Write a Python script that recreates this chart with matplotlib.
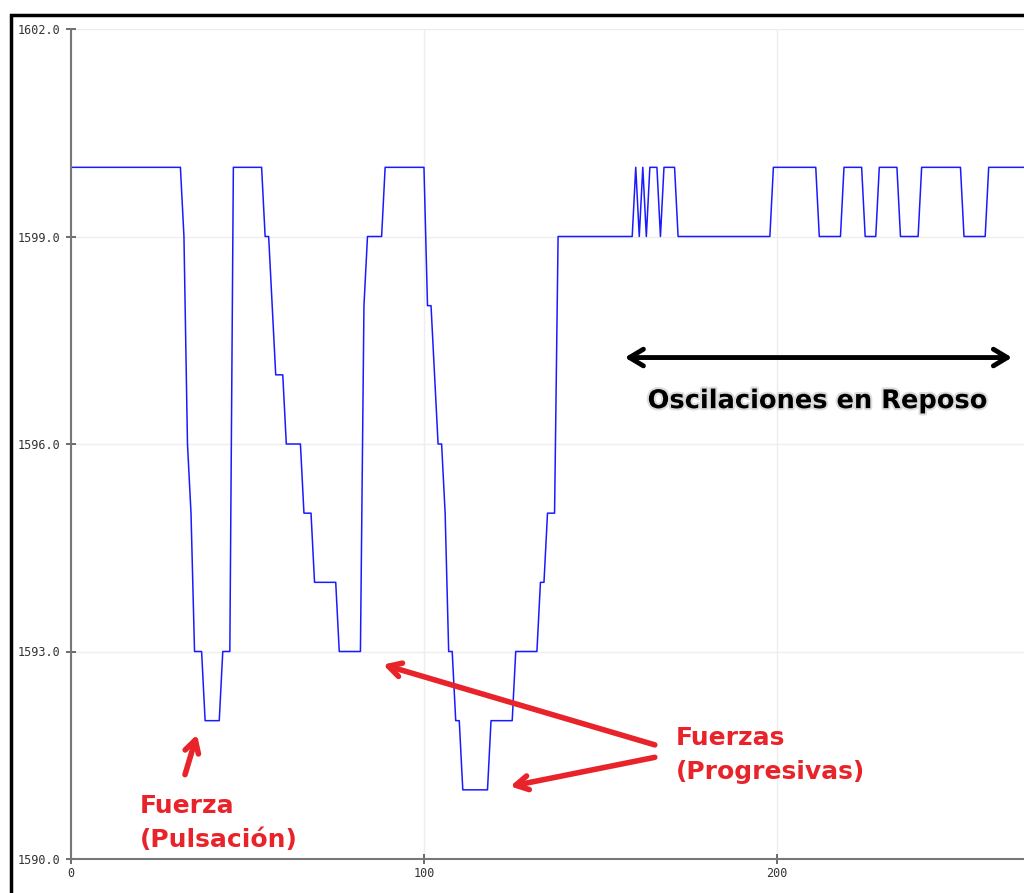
import matplotlib
matplotlib.use("Agg")
import matplotlib.pyplot as plt
import matplotlib.patheffects as pe
from matplotlib.patches import Rectangle

# sensor readings: sample index and raw value at each vertex of the trace
sample_idx = [0, 31, 32, 33, 34, 35, 37, 38, 42, 43, 45, 46, 54, 55, 56, 58,
              60, 61, 65, 66, 68, 69, 75, 76, 82, 83, 84, 88, 89, 100, 101,
              102, 104, 105, 106, 107, 108, 109, 110, 111, 118, 119, 125, 126,
              132, 133, 134, 135, 137, 138, 159, 160, 161, 162, 163, 164, 166,
              167, 168, 171, 172, 198, 199, 211, 212, 218, 219, 224, 225, 228,
              229, 234, 235, 240, 241, 252, 253, 259, 260, 270]
reading = [1600, 1600, 1599, 1596, 1595, 1593, 1593, 1592, 1592, 1593, 1593,
           1600, 1600, 1599, 1599, 1597, 1597, 1596, 1596, 1595, 1595, 1594,
           1594, 1593, 1593, 1598, 1599, 1599, 1600, 1600, 1598, 1598, 1596,
           1596, 1595, 1593, 1593, 1592, 1592, 1591, 1591, 1592, 1592, 1593,
           1593, 1594, 1594, 1595, 1595, 1599, 1599, 1600, 1599, 1600, 1599,
           1600, 1600, 1599, 1600, 1600, 1599, 1599, 1600, 1600, 1599, 1599,
           1600, 1600, 1599, 1599, 1600, 1600, 1599, 1599, 1600, 1600, 1599,
           1599, 1600, 1600]

x_ticks = [0, 100, 200]
y_ticks = [1590, 1593, 1596, 1599, 1602]

red = "#e8232a"

fig = plt.figure(figsize=(10.24, 8.93), dpi=100)
fig.patch.set_facecolor("white")

# black window frame, runs off the right and bottom edges
fig.patches.append(Rectangle((11 / 1024, -0.05), 1.2, 1 - 15 / 893 + 0.05,
                             transform=fig.transFigure, fill=False,
                             edgecolor="black", linewidth=2.5))

ax = fig.add_axes([71 / 1024, 34 / 893, 1 - 71 / 1024, (859 - 29) / 893])
ax.set_facecolor("none")
ax.plot(sample_idx, reading, color="#1a1aff", linewidth=1.1)

ax.set_xlim(0, 270)
ax.set_ylim(1590, 1602)
ax.set_xticks(x_ticks)
ax.set_yticks(y_ticks)
ax.set_yticklabels([f"{v:.1f}" for v in y_ticks])
ax.set_xticklabels([str(v) for v in x_ticks])
ax.grid(True, color="#eeeeee", linewidth=1)
ax.set_axisbelow(True)
for side in ["top", "right"]:
    ax.spines[side].set_visible(False)
for side in ["left", "bottom"]:
    ax.spines[side].set_color("#777777")
    ax.spines[side].set_linewidth(1.5)
ax.tick_params(axis="y", direction="inout", length=7, width=1.2, color="#555555",
               labelsize=8.5, labelcolor="#333333", pad=4)
ax.tick_params(axis="x", direction="inout", length=7, width=1.2, color="#555555",
               labelsize=8.5, labelcolor="#333333", pad=2)
for lab in ax.get_xticklabels() + ax.get_yticklabels():
    lab.set_family("DejaVu Sans Mono")

# resting oscillation span
ax.annotate("", xy=(266.6, 1597.25), xytext=(156.9, 1597.25),
            arrowprops=dict(arrowstyle="<->, head_length=1.0, head_width=0.6",
                            color="black", lw=3.5, shrinkA=0, shrinkB=0,
                            capstyle="round", joinstyle="round"),
            annotation_clip=False)
ax.text(211.6, 1596.62, "Oscilaciones en Reposo", ha="center", va="center",
        fontsize=18.5, fontweight="bold", color="black", family="DejaVu Sans",
        path_effects=[pe.withStroke(linewidth=3, foreground="#dddddd")])

# force annotations
arrow_red = dict(arrowstyle="->, head_length=0.9, head_width=0.5", color=red,
                 lw=4, shrinkA=0, shrinkB=0, capstyle="round", joinstyle="round")
ax.annotate("", xy=(35.7, 1591.8), xytext=(32.3, 1591.22), arrowprops=arrow_red)
ax.annotate("", xy=(88.4, 1592.81), xytext=(165.4, 1591.65), arrowprops=arrow_red)
ax.annotate("", xy=(124.4, 1591.05), xytext=(165.4, 1591.47), arrowprops=arrow_red)

ax.text(19.5, 1590.52, "Fuerza\n(Pulsación)", ha="left", va="center",
        fontsize=18, fontweight="bold", color=red, linespacing=1.55,
        family="DejaVu Sans")
ax.text(171.4, 1591.50, "Fuerzas\n(Progresivas)", ha="left", va="center",
        fontsize=18, fontweight="bold", color=red, linespacing=1.55,
        family="DejaVu Sans")

fig.savefig("out.png", dpi=100)
